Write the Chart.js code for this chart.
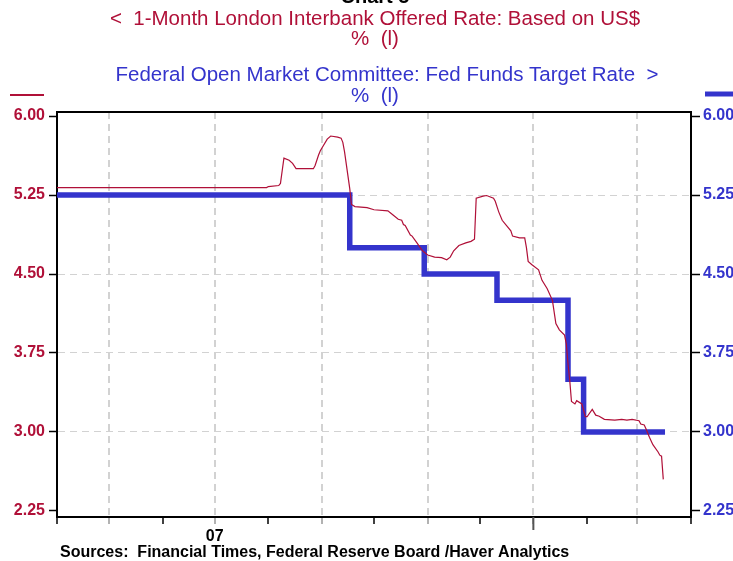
<!DOCTYPE html>
<html>
<head>
<meta charset="utf-8">
<title>Chart 5</title>
<script src="https://cdn.jsdelivr.net/npm/chart.js@4.4.1/dist/chart.umd.min.js"></script>
<style>
  html, body { margin: 0; padding: 0; background: #fff; }
  #wrap { position: relative; width: 733px; height: 561px; }
</style>
</head>
<body>
<div id="wrap"><canvas id="chart" width="733" height="561"></canvas></div>
<script>
// 1-Month LIBOR (daily)
const liborDates = [
  '2007-04-01', '2007-05-15', '2007-06-15', '2007-07-16', '2007-07-31', '2007-08-01',
  '2007-08-07', '2007-08-08', '2007-08-09', '2007-08-10', '2007-08-13', '2007-08-15',
  '2007-08-17', '2007-08-20', '2007-08-27', '2007-08-28', '2007-08-30', '2007-08-31',
  '2007-09-04', '2007-09-06', '2007-09-10', '2007-09-12', '2007-09-13', '2007-09-14',
  '2007-09-17', '2007-09-18', '2007-09-20', '2007-09-27', '2007-10-01', '2007-10-09',
  '2007-10-12', '2007-10-15', '2007-10-17', '2007-10-18', '2007-10-19', '2007-10-22',
  '2007-10-23', '2007-10-26', '2007-10-29', '2007-11-01', '2007-11-05', '2007-11-09',
  '2007-11-12', '2007-11-14', '2007-11-16', '2007-11-19', '2007-11-23', '2007-11-26',
  '2007-11-28', '2007-11-29', '2007-12-03', '2007-12-05', '2007-12-09', '2007-12-10',
  '2007-12-12', '2007-12-14', '2007-12-17', '2007-12-19', '2007-12-20', '2007-12-24',
  '2007-12-27', '2007-12-28', '2007-12-29', '2007-12-31', '2008-01-04', '2008-01-06',
  '2008-01-09', '2008-01-12', '2008-01-14', '2008-01-16', '2008-01-19', '2008-01-20',
  '2008-01-21', '2008-01-22', '2008-01-23', '2008-01-25', '2008-01-26', '2008-01-29',
  '2008-01-31', '2008-02-01', '2008-02-04', '2008-02-06', '2008-02-08', '2008-02-11',
  '2008-02-17', '2008-02-21', '2008-02-24', '2008-02-27', '2008-03-02', '2008-03-03',
  '2008-03-05', '2008-03-06', '2008-03-08', '2008-03-10', '2008-03-13', '2008-03-14',
  '2008-03-15', '2008-03-16'
];
const liborRates = [
  5.32, 5.32, 5.32, 5.32, 5.32, 5.33,
  5.34, 5.36, 5.48, 5.60, 5.58, 5.55,
  5.50, 5.50, 5.50, 5.53, 5.63, 5.67,
  5.78, 5.81, 5.80, 5.79, 5.75, 5.66,
  5.31, 5.16, 5.14, 5.13, 5.11, 5.10,
  5.06, 5.02, 5.01, 4.97, 4.96, 4.87,
  4.86, 4.79, 4.72, 4.68, 4.66, 4.655,
  4.635, 4.66, 4.72, 4.77, 4.795, 4.81,
  4.83, 5.22, 5.24, 5.245, 5.22, 5.19,
  5.09, 5.01, 4.95, 4.91, 4.86, 4.843,
  4.843, 4.75, 4.62, 4.59, 4.54, 4.44,
  4.36, 4.25, 4.03, 3.97, 3.92, 3.84,
  3.65, 3.49, 3.29, 3.266, 3.297, 3.266,
  3.145, 3.145, 3.215, 3.16, 3.15, 3.12,
  3.113, 3.12, 3.113, 3.12, 3.107, 3.075,
  3.066, 3.03, 2.95, 2.88, 2.81, 2.78,
  2.77, 2.55
];

// Fed funds target rate - change dates
const fedDates = ['2007-04-01', '2007-09-17', '2007-10-30', '2007-12-11', '2008-01-21', '2008-01-30', '2008-03-17'];
const fedRates = [5.25, 4.75, 4.50, 4.25, 3.50, 3.00, 3.00];

// axis stuff
const monthTicks = [
  '2007-04-01', '2007-05-01', '2007-06-01', '2007-07-01', '2007-08-01', '2007-09-01', '2007-10-01',
  '2007-11-01', '2007-12-01', '2008-01-01', '2008-02-01', '2008-03-01', '2008-04-01'
];
const yearLabels = ['07'];
const yearLabelDates = ['2007-07-01'];
const yearBreaks = ['2008-01-01'];
const yTicks = [2.25, 3.00, 3.75, 4.50, 5.25, 6.00];

const RED = '#b01038';
const BLUE = '#3434cc';
const FONT = '"Liberation Sans", Arial, Helvetica, sans-serif';

const startMs = Date.parse(monthTicks[0]);
function dayOf(d) { return Math.round((Date.parse(d) - startMs) / 86400000); }

const monthDays = monthTicks.map(dayOf);
const labelDays = yearLabelDates.map(dayOf);

const liborPoints = liborDates.map((d, i) => ({ x: dayOf(d), y: liborRates[i] }));
const fedPoints = fedDates.map((d, i) => ({ x: dayOf(d), y: fedRates[i] }));

// every other month gets a gridline (May, Jul, Sep ...)
function isGridMonth(ctx) {
  const i = monthDays.indexOf(ctx.tick ? ctx.tick.value : -1);
  return i >= 0 && i % 2 === 1;
}

const decorations = {
  id: 'decorations',
  afterDraw(chart) {
    const ctx = chart.ctx;
    const area = chart.chartArea;
    ctx.save();

    // top frame line
    ctx.strokeStyle = '#000';
    ctx.lineWidth = 2;
    ctx.beginPath();
    ctx.moveTo(area.left - 1, area.top);
    ctx.lineTo(area.right + 1, area.top);
    ctx.stroke();

    // longer tick at year boundary
    ctx.strokeStyle = '#555';
    ctx.lineWidth = 2;
    yearBreaks.forEach(d => {
      const x = chart.scales.x.getPixelForValue(dayOf(d));
      ctx.beginPath();
      ctx.moveTo(x, area.bottom);
      ctx.lineTo(x, area.bottom + 13);
      ctx.stroke();
    });

    // titles
    ctx.textAlign = 'center';
    ctx.textBaseline = 'alphabetic';
    ctx.fillStyle = '#000';
    ctx.font = 'bold 20px ' + FONT;
    ctx.fillText('Chart 5', 375, 3);

    ctx.textBaseline = 'middle';
    ctx.font = '20.5px ' + FONT;
    ctx.fillStyle = RED;
    ctx.fillText('<  1-Month London Interbank Offered Rate: Based on US$', 375, 19);
    ctx.fillText('%  (l)', 375, 39);
    ctx.fillStyle = BLUE;
    ctx.fillText('Federal Open Market Committee: Fed Funds Target Rate  >', 387, 75);
    ctx.fillText('%  (l)', 375, 96);

    // legend swatches
    ctx.strokeStyle = RED;
    ctx.lineWidth = 2;
    ctx.beginPath();
    ctx.moveTo(10, 95);
    ctx.lineTo(44, 95);
    ctx.stroke();
    ctx.strokeStyle = BLUE;
    ctx.lineWidth = 5;
    ctx.beginPath();
    ctx.moveTo(705, 94);
    ctx.lineTo(733, 94);
    ctx.stroke();

    // source
    ctx.textAlign = 'left';
    ctx.fillStyle = '#000';
    ctx.font = 'bold 16px ' + FONT;
    ctx.fillText('Sources:  Financial Times, Federal Reserve Board /Haver Analytics', 60, 553);

    ctx.restore();
  }
};

new Chart(document.getElementById('chart'), {
  type: 'line',
  data: {
    datasets: [
      {
        label: '1-Month London Interbank Offered Rate: Based on US$',
        data: liborPoints,
        borderColor: RED,
        borderWidth: 1.2,
        pointRadius: 0,
        tension: 0,
        yAxisID: 'y'
      },
      {
        label: 'Federal Open Market Committee: Fed Funds Target Rate',
        data: fedPoints,
        borderColor: BLUE,
        borderWidth: 5.5,
        pointRadius: 0,
        stepped: 'before',
        borderJoinStyle: 'miter',
        yAxisID: 'y'
      }
    ]
  },
  options: {
    responsive: false,
    animation: false,
    layout: { padding: { top: 112, left: 0, right: 0, bottom: 0 } },
    plugins: {
      legend: { display: false },
      tooltip: { enabled: false }
    },
    scales: {
      x: {
        type: 'linear',
        min: monthDays[0],
        max: monthDays[monthDays.length - 1],
        afterBuildTicks: s => { s.ticks = monthDays.map(v => ({ value: v })); },
        afterFit: s => { s.height = 44; },
        border: { display: true, color: '#000', width: 2, dash: [7, 5] },
        grid: {
          color: ctx => isGridMonth(ctx) ? '#d2d2d2' : 'rgba(0,0,0,0)',
          lineWidth: 2,
          tickColor: ctx => isGridMonth(ctx) ? '#999' : '#000',
          tickLength: 7,
          tickWidth: 1.5
        },
        ticks: {
          autoSkip: false,
          maxRotation: 0,
          padding: 3,
          color: '#000',
          font: { family: FONT, size: 16, weight: 'bold' },
          callback: v => {
            const i = labelDays.indexOf(v);
            return i >= 0 ? yearLabels[i] : '';
          }
        }
      },
      y: {
        position: 'left',
        min: 2.193,
        max: 6.038,
        afterBuildTicks: s => { s.ticks = yTicks.map(v => ({ value: v })); },
        afterFit: s => { s.width = 57; },
        border: { display: true, color: '#000', width: 2, dash: [7, 5] },
        grid: {
          color: ctx => (ctx.tick && (ctx.tick.value === 6 || ctx.tick.value === 2.25)) ? 'rgba(0,0,0,0)' : '#d2d2d2',
          lineWidth: 1,
          tickColor: '#000',
          tickLength: 8,
          tickWidth: 1.5
        },
        ticks: {
          padding: 4,
          color: RED,
          font: { family: FONT, size: 16, weight: 'bold' },
          callback: v => v.toFixed(2)
        }
      },
      y1: {
        position: 'right',
        min: 2.193,
        max: 6.038,
        afterBuildTicks: s => { s.ticks = yTicks.map(v => ({ value: v })); },
        afterFit: s => { s.width = 42; },
        border: { display: true, color: '#000', width: 2 },
        grid: {
          drawOnChartArea: false,
          tickColor: '#000',
          tickLength: 9,
          tickWidth: 1.5
        },
        ticks: {
          padding: 3,
          color: BLUE,
          font: { family: FONT, size: 16, weight: 'bold' },
          callback: v => v.toFixed(2)
        }
      }
    }
  },
  plugins: [decorations]
});
</script>
</body>
</html>
